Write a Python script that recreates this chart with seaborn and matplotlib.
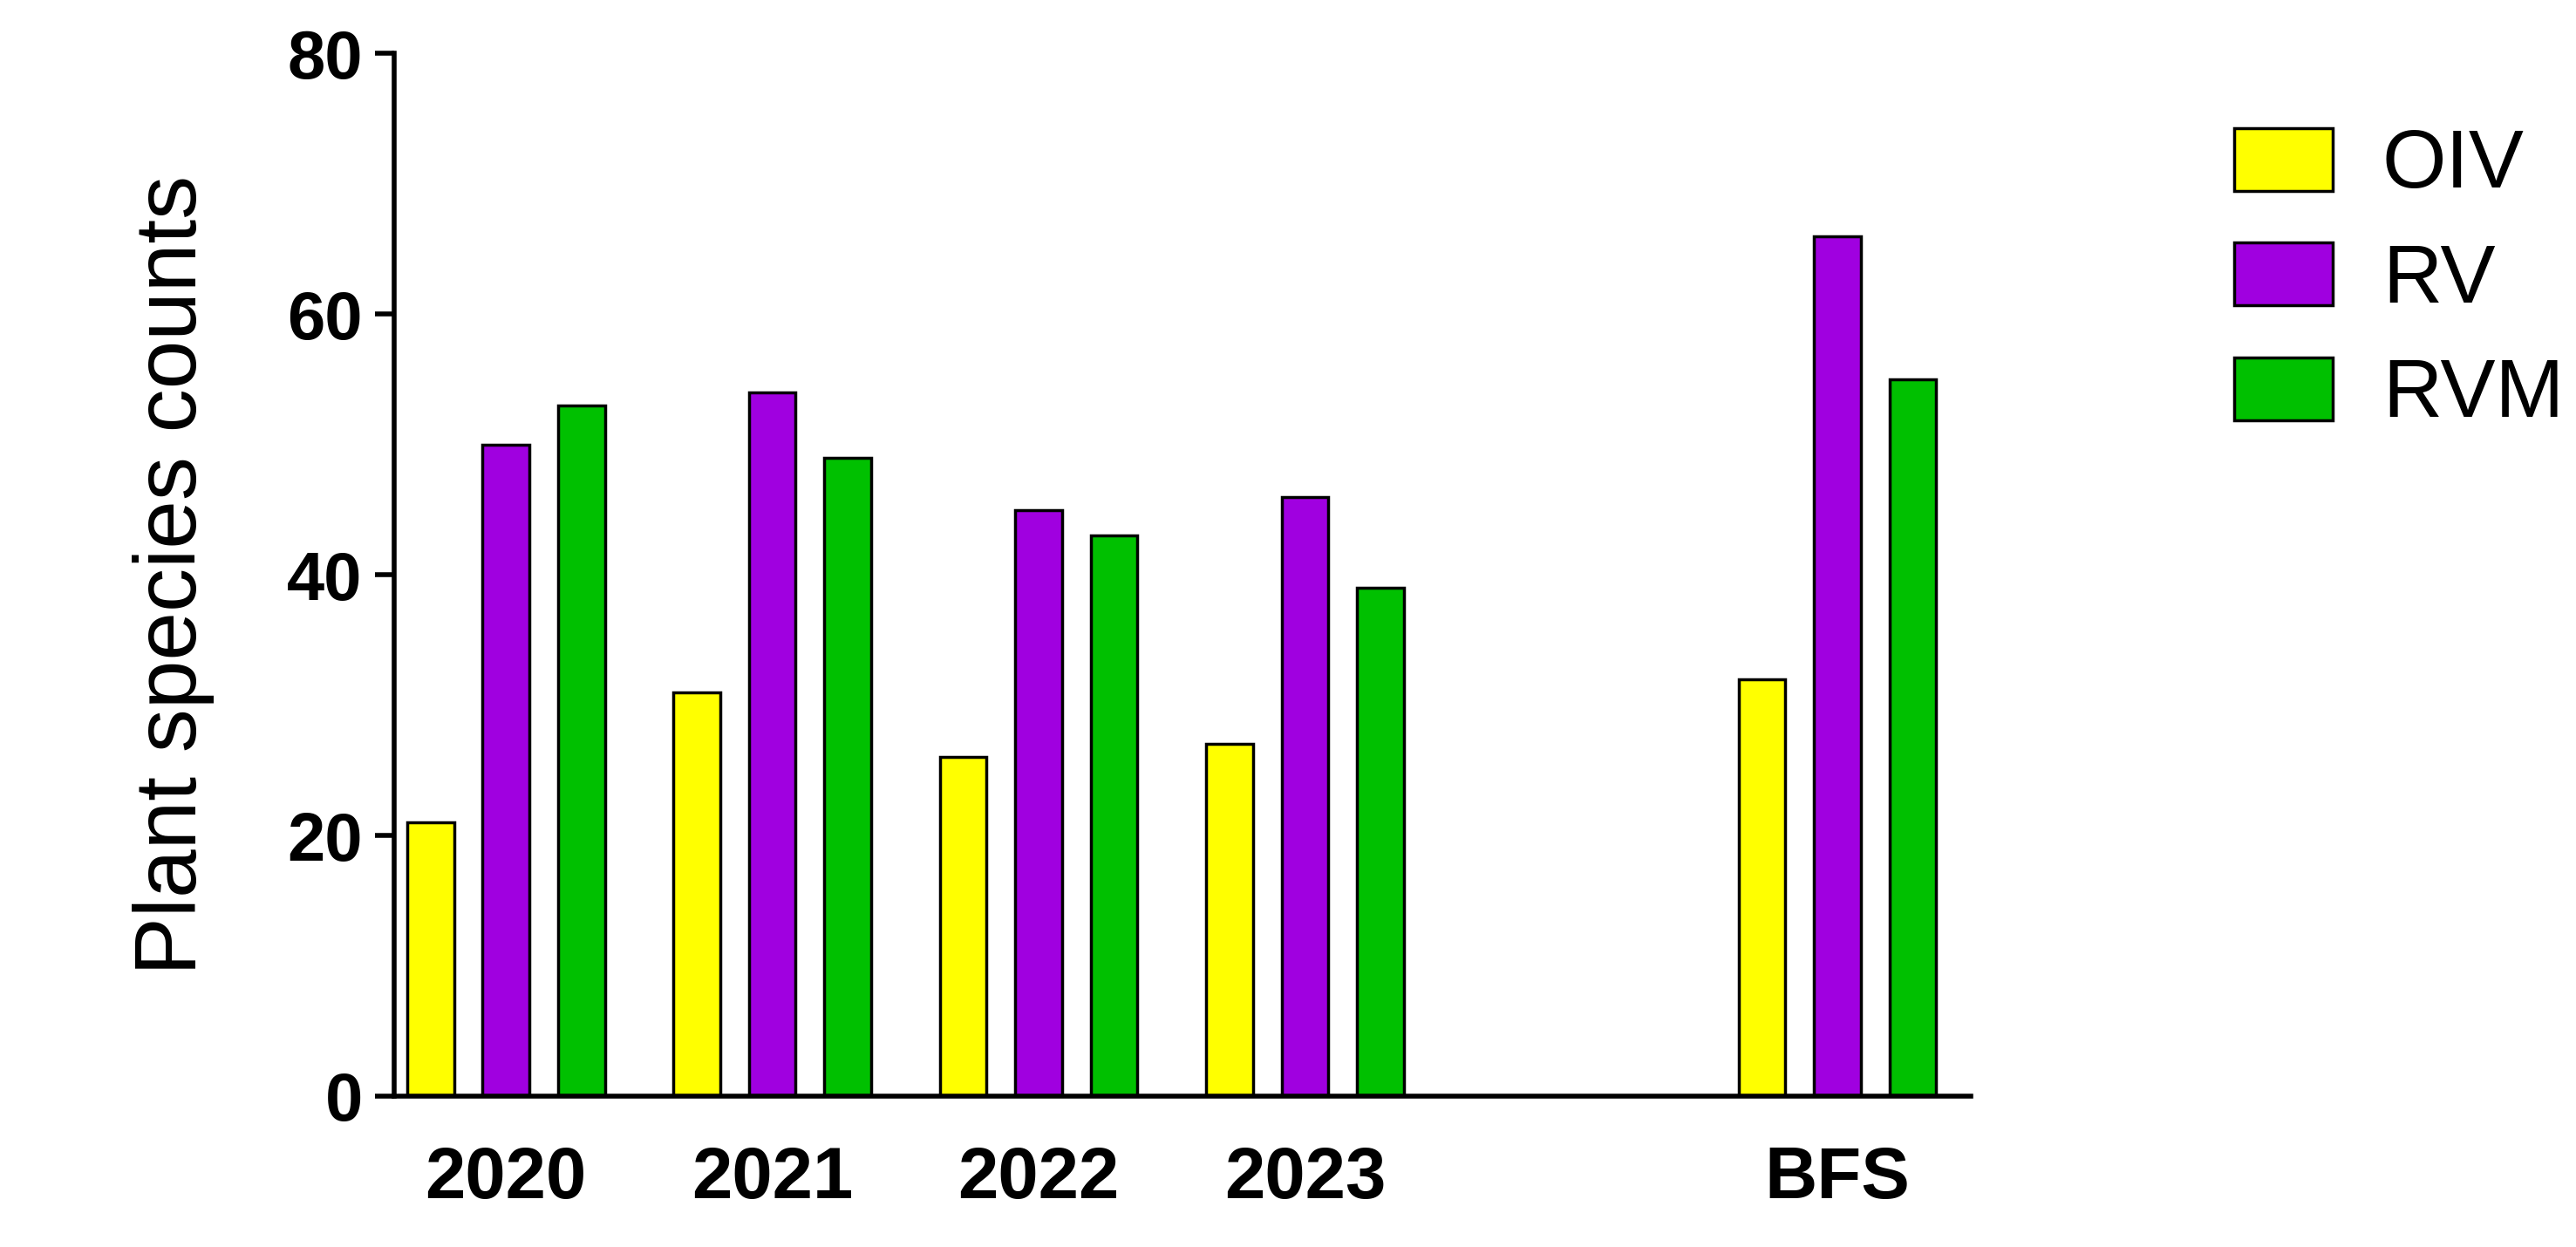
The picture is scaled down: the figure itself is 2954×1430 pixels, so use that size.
import pandas as pd
import matplotlib
matplotlib.use("Agg")
import matplotlib.pyplot as plt
import seaborn as sns

# data
years = ["2020", "2021", "2022", "2023", "", "BFS"]
groups = ["OIV", "RV", "RVM"]
oiv = [21, 31, 26, 27, None, 32]
rv = [50, 54, 45, 46, None, 66]
rvm = [53, 49, 43, 39, None, 55]
colors = ["#FFFF00", "#A000E0", "#00C000"]

rows = []
for i, y in enumerate(years):
    for g, vals in zip(groups, [oiv, rv, rvm]):
        rows.append({"year": y, "group": g, "count": vals[i] if vals[i] is not None else 0})
df = pd.DataFrame(rows)

sns.set_style("ticks")
plt.rcParams['font.family'] = ['Liberation Sans', 'DejaVu Sans']
plt.rcParams['text.color'] = 'black'
plt.rcParams['axes.labelcolor'] = 'black'
plt.rcParams['xtick.color'] = 'black'
plt.rcParams['ytick.color'] = 'black'
plt.rcParams['axes.edgecolor'] = 'black'

fig = plt.figure(figsize=(29.54, 14.30), dpi=100)
ax = fig.add_axes([0.153, 0.121, 0.612, 0.836])
sns.barplot(data=df, x="year", y="count", hue="group", order=years, hue_order=groups,
            palette=colors, saturation=1, width=0.85, gap=0.38, edgecolor="black",
            linewidth=2.5, ax=ax)

ax.set_ylim(0, 80)
ax.set_yticks([0, 20, 40, 60, 80])
ax.set_xlim(-0.42, 5.5)
ax.set_xlabel("")
ax.set_ylabel("Plant species counts", fontsize=72, labelpad=60)
ax.tick_params(axis="y", labelsize=56, width=4, length=16, pad=10)
ax.tick_params(axis="x", labelsize=60, length=0, pad=40)
for lab in ax.get_xticklabels() + ax.get_yticklabels():
    lab.set_fontweight("bold")
for s in ["left", "bottom"]:
    ax.spines[s].set_linewidth(4)
sns.despine(ax=ax)

ax.legend(loc="upper left", bbox_to_anchor=(1.12, 1.0), frameon=False, fontsize=68,
          handlelength=1.2, handleheight=0.8, labelspacing=0.45, handletextpad=0.6)

fig.savefig("out.png", dpi=100)
